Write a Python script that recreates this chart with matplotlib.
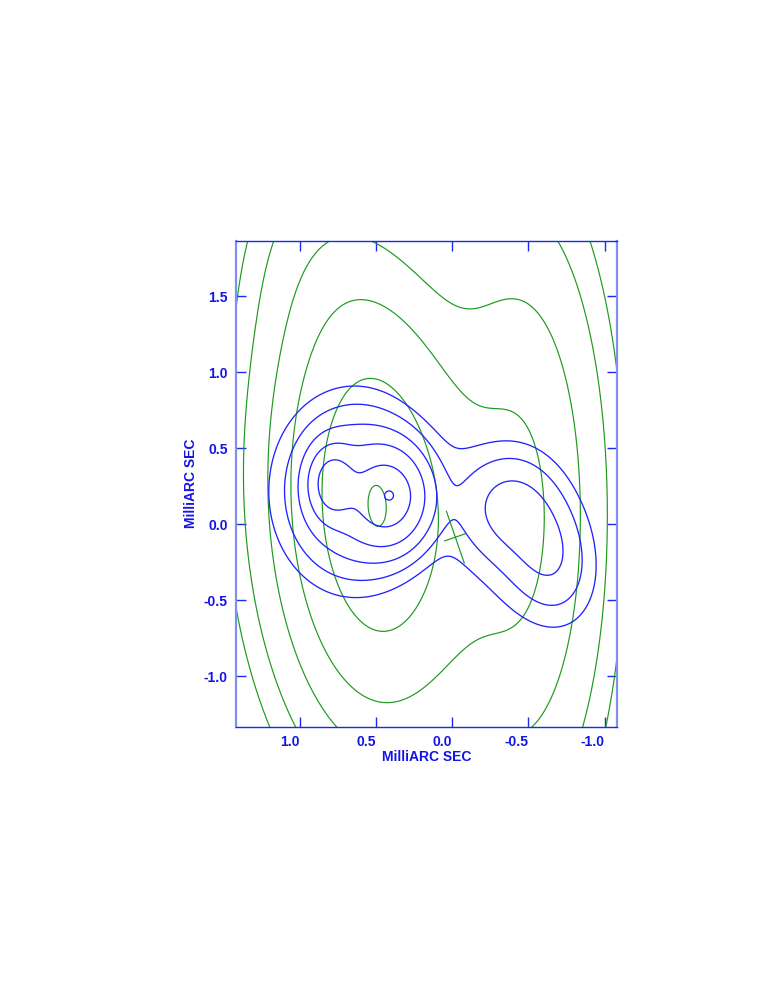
import numpy as np
import matplotlib.pyplot as plt

plt.rcParams['font.family'] = ['Liberation Sans', 'DejaVu Sans']
plt.rcParams['axes.unicode_minus'] = False

# map window (milliarcsec), x runs east -> west
x_lim = (1.421, -1.080)
y_lim = (-1.332, 1.866)
x_ticks = [1.0, 0.5, 0.0, -0.5, -1.0]
y_ticks = [-1.0, -0.5, 0.0, 0.5, 1.0, 1.5]

# blue map: gaussian components (x0, y0, peak, sig_minor, sig_major, PA deg)
blue_x0 = [0.41, 0.41, 0.79, 0.60, 0.70, -0.36, -0.62, -0.48, -0.03]
blue_y0 = [0.19, 0.18, 0.27, 0.21, 0.22, 0.12, -0.16, -0.08, 0.15]
blue_amp = [9.0, 18.0, 17.0, 6.6, 3.0, 3.2, 3.0, 2.1, 0.33]
blue_smin = [0.05, 0.15, 0.09, 0.24, 0.30, 0.18, 0.15, 0.28, 0.14]
blue_smaj = [0.05, 0.19, 0.14, 0.30, 0.38, 0.20, 0.25, 0.42, 0.38]
blue_pa = [0, 0, 0, 0, 0, 0, 15, 20, 0]
blue_levels = [1, 2, 4, 8, 16, 32]

# green map (lower resolution): main, western, north-eastern and diffuse emission
green_x0 = [0.50, -0.45, 0.85, 0.45]
green_y0 = [0.12, 0.05, 1.75, 0.35]
green_amp = [1.0, 0.36, 0.06, 0.03]
green_smin = [0.37, 0.32, 0.30, 0.80]
green_smaj = [0.86, 1.12, 0.50, 1.60]
green_pa = [3, 0, 0, 0]
green_levels = [0.04, 0.08, 0.18, 0.345, 0.66, 1.022]

# fitted component marker (centre, major, minor, PA)
comp_x, comp_y = -0.02, -0.085
comp_maj, comp_min, comp_pa = 0.36, 0.15, 19


def gauss_map(X, Y, x0, y0, amp, smin, smaj, pa):
    Z = np.zeros_like(X)
    for a, b, c, s1, s2, p in zip(x0, y0, amp, smin, smaj, pa):
        t = np.radians(p)
        dx, dy = X - a, Y - b
        v = dx * np.sin(t) + dy * np.cos(t)
        u = dx * np.cos(t) - dy * np.sin(t)
        Z += c * np.exp(-0.5 * ((u / s1) ** 2 + (v / s2) ** 2))
    return Z


xs = np.linspace(1.6, -1.3, 600)
ys = np.linspace(-1.6, 2.1, 760)
X, Y = np.meshgrid(xs, ys)
G = gauss_map(X, Y, green_x0, green_y0, green_amp, green_smin, green_smaj, green_pa)
B = gauss_map(X, Y, blue_x0, blue_y0, blue_amp, blue_smin, blue_smaj, blue_pa)

fig = plt.figure(figsize=(7.65, 9.9), dpi=100)
ax = fig.add_axes([236 / 765, 1 - 726.7 / 990, 380.7 / 765, 486 / 990])

ax.contour(X, Y, G, levels=green_levels, colors='#1c9a1c', linewidths=0.85)
ax.contour(X, Y, B, levels=blue_levels, colors='#2222ff', linewidths=0.95)

t = np.radians(comp_pa)
for length, ang in [(comp_maj, t), (comp_min, t + np.pi / 2)]:
    ex, ey = 0.5 * length * np.sin(ang), 0.5 * length * np.cos(ang)
    ax.plot([comp_x - ex, comp_x + ex], [comp_y - ey, comp_y + ey],
            color='#1c9a1c', lw=0.85)

ax.set_xlim(*x_lim)
ax.set_ylim(*y_lim)
ax.set_xticks(x_ticks)
ax.set_yticks(y_ticks)
ax.set_xticklabels(['%.1f' % v for v in x_ticks], ha='right')
ax.set_yticklabels(['%.1f' % v for v in y_ticks])
ax.tick_params(direction='in', length=7, width=1, color='#1a2ae8',
               top=True, right=True, labelcolor='#1414e6', labelsize=10, pad=6)
for lab in ax.get_xticklabels() + ax.get_yticklabels():
    lab.set_fontweight('bold')

for side in ['left', 'right']:
    ax.spines[side].set_color('#8090ee')
    ax.spines[side].set_linewidth(1.6)
for side in ['top', 'bottom']:
    ax.spines[side].set_color('#1a2ae8')
    ax.spines[side].set_linewidth(1.0)

ax.set_xlabel('MilliARC SEC', color='#1414e6', fontsize=10, fontweight='bold', labelpad=1)
ax.set_ylabel('MilliARC SEC', color='#1414e6', fontsize=10, fontweight='bold', labelpad=4)

fig.savefig('out.png', dpi=100)
